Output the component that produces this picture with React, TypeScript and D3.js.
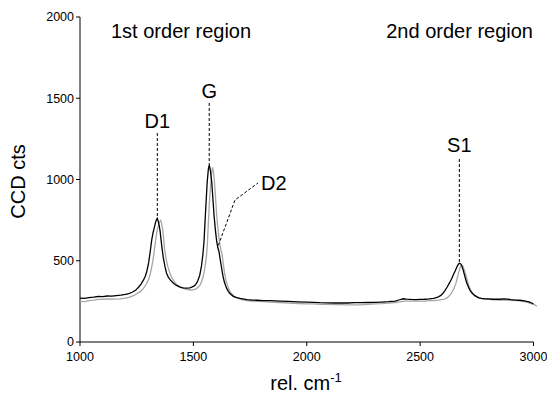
import React from "react";
import * as d3 from "d3";

const xTicks = [1000, 1500, 2000, 2500, 3000];
const yTicks = [0, 500, 1000, 1500, 2000];

// black spectrum: [rel. cm-1, CCD cts]
const blackSpectrum: [number, number][] = [
  [1000, 270], [1020, 268], [1040, 273], [1060, 276], [1080, 280], [1100, 279], [1120, 283], [1140, 282], [1160, 286],
  [1180, 288], [1200, 293], [1215, 298], [1230, 306], [1245, 318], [1260, 340], [1270, 358], [1280, 382],
  [1288, 405], [1295, 437], [1303, 490], [1310, 560], [1316, 625], [1322, 672], [1328, 705], [1333, 735],
  [1337, 752], [1341, 761], [1345, 742], [1349, 718], [1353, 685], [1357, 635], [1361, 585], [1367, 522],
  [1375, 462], [1382, 422], [1390, 398], [1398, 382], [1412, 362], [1426, 348], [1441, 338], [1455, 333],
  [1470, 331], [1485, 333], [1500, 342], [1508, 350], [1514, 362], [1520, 378], [1528, 410], [1536, 470],
  [1542, 540], [1547, 620], [1551, 730], [1556, 860], [1561, 985], [1566, 1062], [1570, 1089], [1574, 1066],
  [1578, 1020], [1581, 985], [1586, 885], [1591, 782], [1597, 690], [1603, 617], [1608, 580], [1613, 556],
  [1619, 502], [1625, 452], [1630, 410], [1636, 372], [1642, 348], [1647, 330], [1654, 312], [1661, 298],
  [1676, 281], [1690, 273], [1706, 268], [1735, 261], [1760, 258], [1780, 257], [1810, 255], [1840, 254],
  [1882, 252], [1920, 250], [1960, 247], [2000, 245], [2030, 244], [2058, 242], [2090, 241], [2120, 240],
  [2150, 241], [2180, 240], [2210, 242], [2235, 242], [2270, 243], [2300, 244], [2330, 246], [2360, 248],
  [2390, 252], [2410, 260], [2425, 266], [2440, 264], [2460, 262], [2480, 261], [2500, 262], [2520, 263],
  [2540, 265], [2560, 268], [2575, 274], [2590, 285], [2600, 298], [2610, 318], [2620, 340], [2630, 365],
  [2640, 392], [2648, 418], [2655, 438], [2662, 462], [2668, 477], [2673, 485], [2678, 482], [2684, 468],
  [2690, 442], [2697, 405], [2705, 366], [2713, 338], [2720, 318], [2728, 303], [2735, 294], [2742, 285],
  [2750, 279], [2760, 272], [2770, 268], [2785, 266], [2800, 265], [2820, 263], [2850, 263], [2870, 265],
  [2885, 264], [2900, 261], [2920, 258], [2940, 257], [2960, 253], [2980, 247], [2992, 240], [3000, 234],
];

// grey spectrum: [rel. cm-1, CCD cts]
const greySpectrum: [number, number][] = [
  [1000, 250], [1020, 249], [1040, 255], [1060, 258], [1080, 262], [1100, 263], [1120, 265], [1150, 264],
  [1176, 266], [1200, 270], [1220, 276], [1240, 288], [1265, 310], [1280, 330], [1294, 360], [1303, 388],
  [1310, 420], [1316, 460], [1322, 505], [1328, 565], [1335, 640], [1340, 685], [1345, 712], [1350, 738],
  [1356, 748], [1360, 728], [1364, 700], [1367, 662], [1373, 572], [1380, 510], [1387, 465], [1397, 422],
  [1410, 382], [1426, 353], [1440, 340], [1455, 330], [1470, 324], [1485, 320], [1500, 321], [1512, 327],
  [1522, 338], [1530, 352], [1536, 370], [1543, 400], [1550, 450], [1555, 500], [1558, 535], [1562, 610],
  [1566, 730], [1570, 840], [1573, 905], [1577, 985], [1581, 1045], [1585, 1074], [1589, 1040], [1592, 1000],
  [1595, 945], [1600, 842], [1605, 742], [1611, 662], [1617, 598], [1622, 562], [1627, 535], [1633, 470],
  [1639, 412], [1645, 372], [1650, 350], [1656, 328], [1661, 311], [1676, 286], [1691, 273], [1710, 262],
  [1735, 255], [1760, 252], [1780, 250], [1810, 248], [1840, 246], [1880, 243], [1920, 240], [1960, 237],
  [2000, 235], [2030, 234], [2060, 232], [2090, 231], [2120, 230], [2150, 230], [2180, 229], [2210, 229],
  [2235, 228], [2270, 231], [2300, 234], [2330, 236], [2360, 239], [2390, 243], [2410, 247], [2430, 252],
  [2450, 252], [2470, 251], [2500, 252], [2520, 252], [2540, 254], [2560, 255], [2580, 258], [2600, 262],
  [2610, 266], [2620, 273], [2630, 286], [2640, 305], [2650, 332], [2658, 362], [2665, 400], [2670, 428],
  [2675, 452], [2679, 466], [2683, 474], [2687, 470], [2690, 461], [2695, 442], [2700, 420], [2706, 390],
  [2712, 360], [2718, 335], [2725, 315], [2732, 298], [2740, 285], [2750, 276], [2760, 270], [2780, 265],
  [2800, 262], [2830, 260], [2850, 258], [2875, 258], [2900, 256], [2930, 254], [2950, 250], [2970, 245],
  [2990, 236], [3005, 228], [3015, 221],
];

// peak annotations: label, anchor position
const peakLabels = ["D1", "G", "D2", "S1"];
const peakAnchorX = [1341, 1570, 1610, 2673];
const peakAnchorY = [761, 1089, 570, 485];
const regionLabels = ["1st order region", "2nd order region"];

const W = 547;
const H = 402;
const left = 80;
const right = 533.5;
const top = 17;
const bottom = 342;

export default function App() {
  const x = d3.scaleLinear().domain([1000, 3000]).range([left, right]);
  const y = d3.scaleLinear().domain([0, 2000]).range([bottom, top]);
  const line = d3
    .line<[number, number]>()
    .x((d) => x(d[0]))
    .y((d) => y(d[1]));

  const font = "Arial, 'Liberation Sans', Helvetica, sans-serif";
  const dash = "3,2";

  const d1x = x(peakAnchorX[0]);
  const d1y = y(peakAnchorY[0]);
  const gx = x(peakAnchorX[1]);
  const gy = y(peakAnchorY[1]);
  const d2x = x(peakAnchorX[2]);
  const d2y = y(peakAnchorY[2]);
  const s1x = x(peakAnchorX[3]);
  const s1y = y(peakAnchorY[3]);

  return (
    <svg
      width={W}
      height={H}
      style={{ position: "absolute", left: 0, top: 0, background: "#fff" }}
      fontFamily={font}
    >
      <rect x={0} y={0} width={W} height={H} fill="#fff" />
      {/* axes */}
      <line x1={left} x2={left} y1={top} y2={bottom} stroke="#000" strokeWidth={1} />
      <line x1={left} x2={right} y1={bottom} y2={bottom} stroke="#000" strokeWidth={1} />
      {yTicks.map((t) => (
        <g key={"y" + t}>
          <line x1={left - 4} x2={left} y1={y(t)} y2={y(t)} stroke="#000" />
          <text x={left - 6} y={y(t)} dy="0.35em" fontSize={12.5} textAnchor="end" fill="#000">
            {t}
          </text>
        </g>
      ))}
      {xTicks.map((t) => (
        <g key={"x" + t}>
          <line x1={x(t)} x2={x(t)} y1={bottom} y2={bottom + 4} stroke="#000" />
          <text x={x(t)} y={bottom + 19} fontSize={12.5} textAnchor="middle" fill="#000">
            {t}
          </text>
        </g>
      ))}
      {/* axis titles */}
      <text
        transform={`translate(25,${(top + bottom) / 2 + 2}) rotate(-90)`}
        fontSize={20}
        textAnchor="middle"
        fill="#000"
      >
        CCD cts
      </text>
      <text x={306} y={390} fontSize={20} textAnchor="middle" fill="#000">
        rel. cm<tspan fontSize={13} dy={-8}>-1</tspan>
      </text>

      {/* spectra */}
      <path d={line(greySpectrum) || ""} fill="none" stroke="#a6a6a6" strokeWidth={1.3} />
      <path d={line(blackSpectrum) || ""} fill="none" stroke="#000" strokeWidth={1.3} />

      {/* annotation lines */}
      <line x1={d1x} x2={d1x} y1={133} y2={d1y} stroke="#000" strokeDasharray={dash} />
      <line x1={gx} x2={gx} y1={103} y2={gy} stroke="#000" strokeDasharray={dash} />
      <polyline
        points={`${d2x},${d2y - 4} 235,200 258,183`}
        fill="none"
        stroke="#000"
        strokeDasharray={dash}
      />
      <line x1={s1x} x2={s1x} y1={159} y2={s1y} stroke="#000" strokeDasharray={dash} />

      {/* labels */}
      <text x={d1x} y={128} fontSize={20} textAnchor="middle" fill="#000">
        {peakLabels[0]}
      </text>
      <text x={gx} y={98} fontSize={20} textAnchor="middle" fill="#000">
        {peakLabels[1]}
      </text>
      <text x={261} y={190} fontSize={20} textAnchor="start" fill="#000">
        {peakLabels[2]}
      </text>
      <text x={s1x} y={152} fontSize={20} textAnchor="middle" fill="#000">
        {peakLabels[3]}
      </text>
      <text x={111} y={38} fontSize={20} fill="#000">
        {regionLabels[0]}
      </text>
      <text x={533} y={38} fontSize={20} textAnchor="end" fill="#000">
        {regionLabels[1]}
      </text>
    </svg>
  );
}
